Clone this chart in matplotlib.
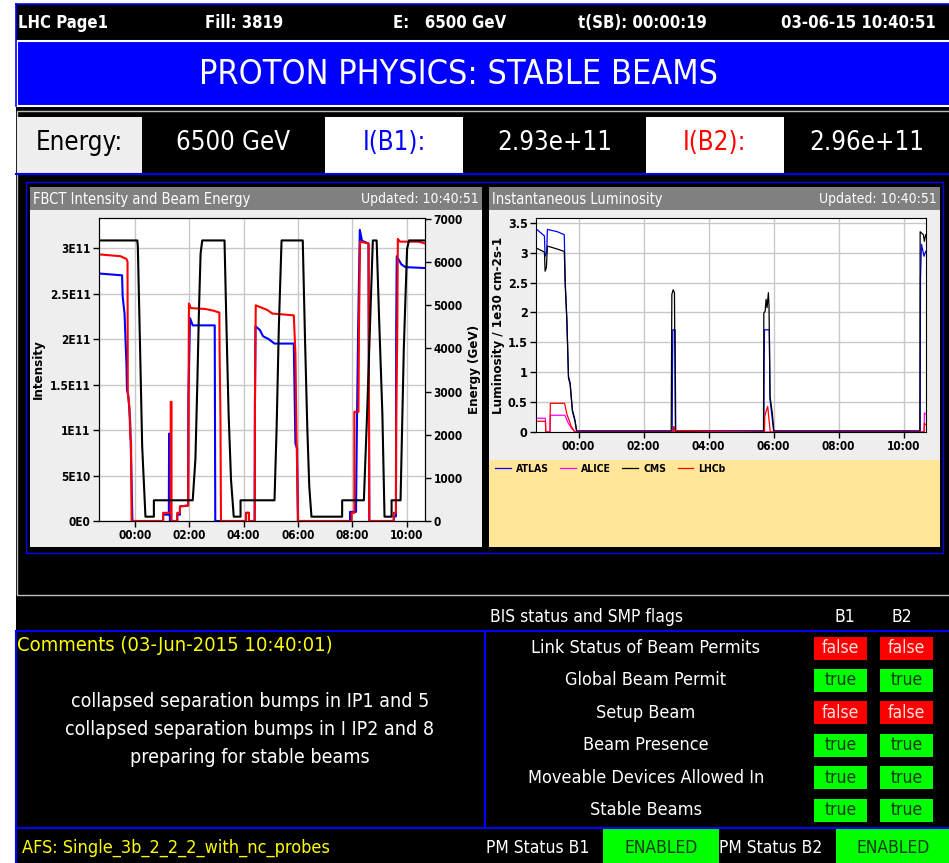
import matplotlib

matplotlib.use("Agg")
import matplotlib.pyplot as plt  # noqa: E402
from matplotlib import font_manager as fm  # noqa: E402
from matplotlib.patches import Rectangle  # noqa: E402

W, H = 949, 863

# --- data -------------------------------------------------------------------
header_items = ["LHC Page1", "Fill: 3819", "E:   6500 GeV", "t(SB): 00:00:19", "03-06-15 10:40:51"]
banner_text = "PROTON PHYSICS: STABLE BEAMS"
energy_row = ["Energy:", "6500 GeV", "I(B1):", "2.93e+11", "I(B2):", "2.96e+11"]

time_ticks = [0, 2, 4, 6, 8, 10]
time_labels = ["00:00", "02:00", "04:00", "06:00", "08:00", "10:00"]

# FBCT intensity (units of 1e11) and beam energy (GeV), time in hours from 00:00
energy_t = [-1.32, 0.09, 0.11, 0.18, 0.27, 0.39, 0.70, 0.70, 2.13, 2.23, 2.30, 2.36, 2.42, 2.48,
            3.30, 3.37, 3.45, 3.54, 3.64, 3.89, 3.89, 5.14, 5.22, 5.30, 5.40, 6.18, 6.26, 6.35,
            6.42, 6.50, 7.63, 7.63, 8.43, 8.55, 8.68, 8.76, 8.90, 8.99, 9.11, 9.19, 9.45, 9.45,
            9.78, 9.90, 10.02, 10.09, 10.68]
energy_gev = [6500, 6500, 6350, 4350, 1720, 100, 100, 480, 480, 1450, 3200, 4900, 6200, 6500,
              6500, 4550, 2500, 950, 100, 100, 480, 480, 2200, 4500, 6500, 6500, 4300, 2100,
              800, 100, 100, 480, 480, 2500, 5000, 6500, 6500, 4700, 2500, 100, 100, 480,
              480, 4000, 6300, 6500, 6500]

b1_t = [-1.32, -0.47, -0.45, -0.38, -0.31, -0.29, -0.24, -0.17, -0.15, -0.09, 1.04, 1.04, 1.25,
        1.26, 1.28, 1.29, 1.56, 1.56, 1.66, 1.66, 1.96, 1.97, 2.03, 2.13, 2.94, 2.96, 4.09, 4.09,
        4.20, 4.20, 4.41, 4.42, 4.44, 4.60, 4.72, 4.92, 5.14, 5.85, 5.88, 5.91, 5.97, 6.00, 7.92,
        7.92, 8.14, 8.18, 8.22, 8.28, 8.36, 8.60, 8.63, 9.53, 9.53, 9.61, 9.62, 9.64, 9.81, 9.96,
        10.68]
b1_int = [2.72, 2.70, 2.47, 2.28, 1.73, 1.44, 1.38, 1.08, 0.82, 0.0, 0.0, 0.07, 0.07,
          0.96, 0.96, 0.0, 0.0, 0.07, 0.07, 0.16, 0.17, 1.35, 2.23, 2.15, 2.15, 0.0, 0.0, 0.09,
          0.09, 0.0, 0.0, 1.30, 2.14, 2.10, 2.03, 2.00, 1.95, 1.95, 1.40, 0.85, 0.80, 0.0, 0.0,
          0.10, 0.10, 1.20, 2.14, 3.20, 3.08, 3.05, 0.0, 0.0, 0.05, 0.05, 2.10, 2.91, 2.82, 2.79,
          2.78]

b2_t = [-1.32, -0.53, -0.31, -0.27, -0.26, -0.20, -0.17, -0.14, -0.12, 1.04, 1.04, 1.32, 1.32,
        1.35, 1.35, 1.56, 1.56, 1.66, 1.66, 1.96, 1.99, 2.06, 2.60, 2.91, 3.11, 3.12, 3.15, 3.17,
        4.09, 4.09, 4.20, 4.20, 4.41, 4.42, 4.45, 4.87, 5.06, 5.85, 5.91, 5.95, 6.01, 7.98, 7.98,
        8.08, 8.08, 8.23, 8.25, 8.29, 8.60, 8.63, 9.53, 9.53, 9.61, 9.62, 9.66, 9.68, 9.76, 10.45,
        10.68]
b2_int = [2.93, 2.91, 2.88, 2.85, 1.40, 1.25, 0.92, 0.88, 0.0, 0.0, 0.09, 0.09, 1.31,
          1.31, 0.0, 0.0, 0.09, 0.09, 0.16, 0.17, 2.39, 2.34, 2.33, 2.31, 2.29, 1.84, 1.15, 0.0,
          0.0, 0.09, 0.09, 0.0, 0.0, 1.25, 2.37, 2.32, 2.28, 2.26, 1.84, 0.95, 0.0, 0.0, 0.09,
          0.09, 1.20, 1.20, 2.14, 3.07, 3.05, 0.0, 0.0, 0.09, 0.09, 1.10, 2.10, 3.10, 3.07, 3.07,
          3.05]

int_ticks = [0, 0.5, 1, 1.5, 2, 2.5, 3]
int_labels = ["0E0", "5E10", "1E11", "1.5E11", "2E11", "2.5E11", "3E11"]
energy_ticks = [0, 1000, 2000, 3000, 4000, 5000, 6000, 7000]

# instantaneous luminosity (1e30 cm-2 s-1)
atlas_t = [-1.31, -1.05, -1.03, -0.98, -0.96, -0.65, -0.44, -0.41, -0.36, -0.31, -0.26, -0.19,
           -0.11, -0.06, 2.88, 2.89, 2.90, 2.97, 2.99, 5.70, 5.71, 5.72, 5.87, 5.89, 5.96, 6.00,
           10.51, 10.52, 10.55, 10.63, 10.68]
atlas_lumi = [3.40, 3.28, 2.94, 3.00, 3.39, 3.35, 3.30, 2.50, 1.88, 0.93, 0.82, 0.37,
              0.20, 0.02, 0.02, 1.13, 1.71, 1.71, 0.02, 0.02, 1.13, 1.71, 1.71, 0.54, 0.22, 0.02,
              0.02, 2.55, 3.14, 2.94, 3.02]
alice_t = [-1.31, -1.02, -1.01, -0.88, -0.87, -0.42, -0.32, -0.20, -0.10, 10.63, 10.64, 10.68]
alice_lumi = [0.23, 0.23, 0.0, 0.0, 0.28, 0.28, 0.15, 0.05, 0.0, 0.0, 0.32, 0.30]
cms_t = [-1.31, -1.05, -1.03, -0.99, -0.96, -0.65, -0.44, -0.41, -0.36, -0.31, -0.26, -0.19,
         -0.11, -0.06, 2.85, 2.87, 2.91, 2.95, 2.98, 5.69, 5.70, 5.74, 5.77, 5.80, 5.84, 5.86,
         5.89, 5.96, 6.01, 10.50, 10.51, 10.61, 10.64, 10.68]
cms_lumi = [3.08, 3.01, 2.69, 2.75, 3.11, 3.06, 3.02, 2.45, 1.85, 0.90, 0.80, 0.35,
            0.18, 0.01, 0.01, 2.30, 2.38, 2.33, 0.01, 0.01, 1.99, 2.02, 2.22, 2.08, 2.33, 2.10,
            0.60, 0.32, 0.01, 0.01, 3.35, 3.30, 3.19, 3.30]
lhcb_t = [-1.31, -1.02, -1.01, -0.88, -0.87, -0.43, -0.36, -0.23, -0.12, 2.92, 2.93, 2.96,
          5.72, 5.73, 5.77, 5.82, 5.86, 5.90, 10.63, 10.64, 10.68]
lhcb_lumi = [0.18, 0.18, 0.0, 0.0, 0.48, 0.48, 0.30, 0.10, 0.0, 0.0, 0.09, 0.02,
             0.0, 0.26, 0.35, 0.43, 0.20, 0.0, 0.0, 0.15, 0.12]
lumi_ticks = [0, 0.5, 1, 1.5, 2, 2.5, 3, 3.5]
lumi_labels = ["0", "0.5", "1", "1.5", "2", "2.5", "3", "3.5"]

comment_title = "Comments (03-Jun-2015 10:40:01)"
comment_lines = ["collapsed separation bumps in IP1 and 5",
                 "collapsed separation bumps in I IP2 and 8",
                 "preparing for stable beams"]

flag_names = ["Link Status of Beam Permits", "Global Beam Permit", "Setup Beam",
              "Beam Presence", "Moveable Devices Allowed In", "Stable Beams"]
flag_b1 = [False, True, False, True, True, True]
flag_b2 = [False, True, False, True, True, True]

afs_text = "AFS: Single_3b_2_2_2_with_nc_probes"
pm_status = ["ENABLED", "ENABLED"]


# --- font: the page uses a condensed sans --------------------------------------
def pick_font():
    for f in fm.fontManager.ttflist:
        if f.name == "DejaVu Sans" and "condensed" in str(f.stretch):
            return "DejaVu Sans", "condensed"
    names = {f.name for f in fm.fontManager.ttflist}
    if "Liberation Sans Narrow" in names:
        return "Liberation Sans Narrow", "normal"
    return "DejaVu Sans", "normal"


FAMILY, STRETCH = pick_font()
plt.rcParams["font.family"] = FAMILY
plt.rcParams["font.stretch"] = STRETCH

BLUE = "#0000ff"
RED = "#ff0000"
GREEN = "#00ff00"
YELLOW = "#ffff00"
PANEL = "#eeeeee"
TITLEBAR = "#808080"
TICK_FS = 8.5


def frac(x0, y0, x1, y1):
    return [x0 / W, 1 - y1 / H, (x1 - x0) / W, (y1 - y0) / H]


fig = plt.figure(figsize=(W / 100, H / 100), dpi=100)
bg = fig.add_axes([0, 0, 1, 1])
bg.set_xlim(0, W)
bg.set_ylim(H, 0)
bg.axis("off")


def box(x0, y0, x1, y1, fc="none", ec="none", lw=0.0):
    bg.add_patch(Rectangle((x0, y0), x1 - x0, y1 - y0, facecolor=fc, edgecolor=ec, linewidth=lw))


def txt(x, y, s, size, color="white", ha="left", weight="normal"):
    bg.text(x, y, s, fontsize=size, color=color, ha=ha, va="center", fontweight=weight)


# page background
box(16, 4, W + 5, H + 5, fc="black")
bg.plot([16, W], [4.5, 4.5], color=BLUE, lw=1.2)
bg.plot([16.5, 16.5], [4, 106], color=BLUE, lw=1.2)

# header line
for s, x in zip(header_items, [18, 205, 393, 578, 781]):
    txt(x, 23, s, 12, weight="bold")

# banner
box(17, 41, W + 5, 106, fc=BLUE, ec="white", lw=1.5)
txt(459, 75, banner_text, 24.5, ha="center")

# energy / intensity row
box(17, 111, W + 5, 595, ec="#c0c0c0", lw=1.0)
cells = [(17, 142, PANEL, "black"), (142, 325, "black", "white"), (325, 463, "white", BLUE),
         (463, 646, "black", "white"), (646, 784, "white", RED), (784, W, "black", "white")]
for (x0, x1, fc, tc), s in zip(cells, energy_row):
    box(x0, 117, x1, 173, fc=fc)
    txt((x0 + x1) / 2, 143, s, 18.5, color=tc, ha="center")
bg.plot([16, W], [174, 174], color=BLUE, lw=1.5)

# chart area frames
box(26, 182, 943, 553, ec=BLUE, lw=1.0)
for x0, x1, title in [(30, 482, "FBCT Intensity and Beam Energy"),
                      (489, 940, "Instantaneous Luminosity")]:
    box(x0, 187, x1, 547, fc=PANEL)
    box(x0, 187, x1, 210, fc=TITLEBAR)
    txt(x0 + 3, 199, title, 10.5)
    txt(x1 - 3, 199, "Updated: 10:40:51", 10, ha="right")
box(489, 460, 940, 547, fc="#ffe699")

# --- left chart: FBCT intensity and energy ---------------------------------------
ax1 = fig.add_axes(frac(99, 218, 425, 521))
ax1.plot(b1_t, b1_int, color=BLUE, lw=1.5)
ax1.plot(b2_t, b2_int, color=RED, lw=1.5)
ax1.set_xlim(-1.32, 10.68)
ax1.set_ylim(0, 3.33)
ax1.set_xticks(time_ticks)
ax1.set_xticklabels(time_labels, fontsize=TICK_FS, fontweight="bold")
ax1.set_yticks(int_ticks)
ax1.set_yticklabels(int_labels, fontsize=TICK_FS, fontweight="bold")
ax1.grid(True, color="#c8c8c8", lw=1.0)
ax1.set_axisbelow(True)
ax1.set_ylabel("Intensity", fontsize=9.5, fontweight="bold")
ax1.yaxis.set_label_coords(-0.166, 0.5)
ax1e = ax1.twinx()
ax1e.plot(energy_t, energy_gev, color="black", lw=1.5)
ax1e.set_ylim(0, 7020)
ax1e.set_yticks(energy_ticks)
ax1e.set_yticklabels([str(v) for v in energy_ticks], fontsize=TICK_FS, fontweight="bold")
ax1e.set_ylabel("Energy (GeV)", fontsize=9.5, fontweight="bold")
ax1e.yaxis.set_label_coords(1.132, 0.5)
for a in (ax1, ax1e):
    a.tick_params(length=4, width=1, pad=2)

# --- right chart: instantaneous luminosity -------------------------------------
ax2 = fig.add_axes(frac(536, 218, 926, 432))
ax2.plot(atlas_t, atlas_lumi, color=BLUE, lw=0.9, label="ATLAS")
ax2.plot(alice_t, alice_lumi, color="#ff00ff", lw=0.9, label="ALICE")
ax2.plot(cms_t, cms_lumi, color="black", lw=0.9, label="CMS")
ax2.plot(lhcb_t, lhcb_lumi, color=RED, lw=0.9, label="LHCb")
ax2.set_xlim(-1.31, 10.69)
ax2.set_ylim(0, 3.58)
ax2.set_xticks(time_ticks)
ax2.set_xticklabels(time_labels, fontsize=TICK_FS, fontweight="bold")
ax2.set_yticks(lumi_ticks)
ax2.set_yticklabels(lumi_labels, fontsize=TICK_FS + 0.5, fontweight="bold")
ax2.grid(True, color="#c8c8c8", lw=1.0)
ax2.set_axisbelow(True)
ax2.tick_params(length=4, width=1, pad=2)
ax2.set_ylabel("Luminosity / 1e30 cm-2s-1", fontsize=9.5, fontweight="bold")
ax2.yaxis.set_label_coords(-0.08, 0.5)
fig.legend(loc="upper left", bbox_to_anchor=(495 / W, 1 - 464 / H), ncol=4, frameon=False,
           prop={"size": 7.5, "weight": "bold"}, handlelength=1.5, handletextpad=0.5,
           columnspacing=1.1, borderaxespad=0, borderpad=0)

# --- lower section: comments and BIS / SMP flags --------------------------------
bg.plot([16, W], [631, 631], color=BLUE, lw=1.5)
bg.plot([485, 485], [631, 828], color=BLUE, lw=1.5)
bg.plot([16, W], [828, 828], color=BLUE, lw=1.5)
bg.plot([16.5, 16.5], [631, H], color=BLUE, lw=1.5)

txt(587, 617, "BIS status and SMP flags", 12.5, ha="center")
txt(845, 617, "B1", 12.5, ha="center")
txt(902, 617, "B2", 12.5, ha="center")

txt(17, 645, comment_title, 14.5, color=YELLOW)
for i, line in enumerate(comment_lines):
    txt(250, 701 + 28 * i, line, 14, ha="center")

for i, (name, v1, v2) in enumerate(zip(flag_names, flag_b1, flag_b2)):
    y = 648 + 32.4 * i
    txt(646, y, name, 13, ha="center")
    for x0, x1, v in [(814, 867, v1), (880, 933, v2)]:
        box(x0, y - 11.5, x1, y + 11.5, fc=GREEN if v else RED)
        txt((x0 + x1) / 2, y, "true" if v else "false", 12.5, ha="center",
            color="#103a10" if v else "#ffe0e0")

# bottom status line
txt(22, 848, afs_text, 13, color=YELLOW)
txt(486, 848, "PM Status B1", 12.5)
txt(719, 848, "PM Status B2", 12.5)
for (x0, x1, xc), s in zip([(603, 719, 661), (836, W + 5, 893)], pm_status):
    box(x0, 829, x1, H + 5, fc=GREEN)
    txt(xc, 848, s, 12.5, color="#103a10", ha="center")

fig.savefig("out.png", dpi=100, facecolor="white")
